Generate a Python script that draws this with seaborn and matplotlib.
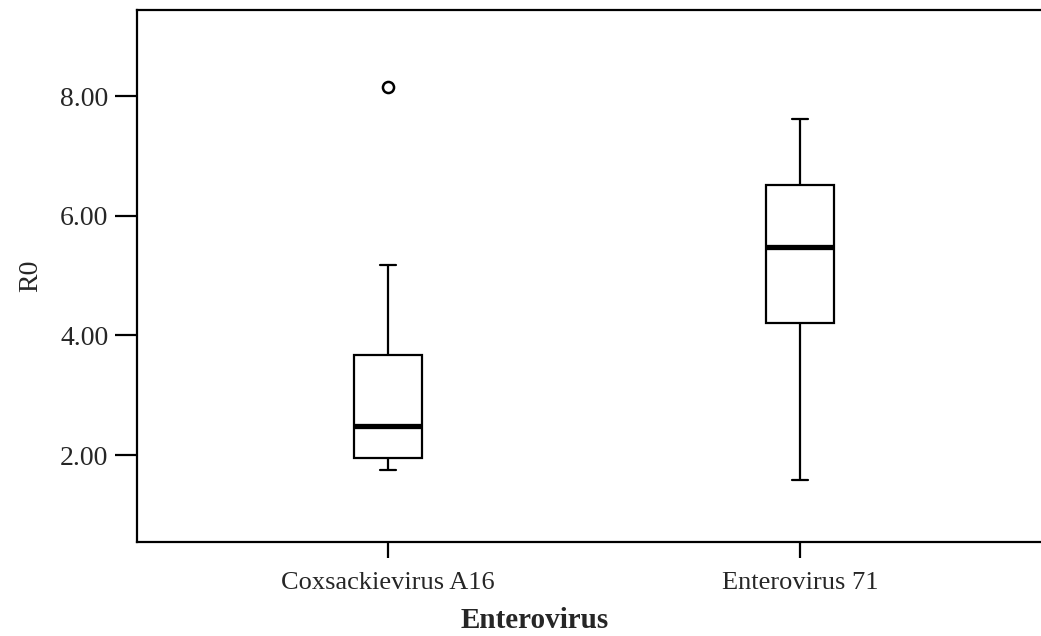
import numpy as np
import pandas as pd
import matplotlib
matplotlib.use("Agg")
import matplotlib.pyplot as plt
import seaborn as sns

# Five-number summaries of R0 for each enterovirus group
viruses = ["Coxsackievirus A16", "Enterovirus 71"]
whisker_low = [1.75, 1.58]
q1 = [1.955, 4.20]
median = [2.49, 5.48]
q3 = [3.67, 6.51]
whisker_high = [5.175, 7.61]
outliers = [[8.15], []]

y_ticks = [2.0, 4.0, 6.0, 8.0]
y_tick_labels = ["2.00", "4.00", "6.00", "8.00"]

# Build a long-form table whose quartiles and whisker ends reproduce the summaries
rows = []
for name, lo, a, m, b, hi, extra in zip(viruses, whisker_low, q1, median, q3,
                                        whisker_high, outliers):
    sample = [lo] + [a] * 4 + [m] * 4 + [b] * 4 + [hi] + list(extra)
    rows += [{"Enterovirus": name, "R0": v} for v in sample]
df = pd.DataFrame(rows)

sns.set_theme(style="white")
plt.rcParams["font.family"] = ["Liberation Serif", "DejaVu Serif"]
plt.rcParams["text.color"] = "#1a1a1a"

W, H = 1041, 636
fig = plt.figure(figsize=(W / 100, H / 100), dpi=100)
left, right, top, bottom = 137, 1051, 10, 542
ax = fig.add_axes([left / W, (H - bottom) / H, (right - left) / W, (bottom - top) / H])

sns.boxplot(
    data=df, x="Enterovirus", y="R0", order=viruses, ax=ax,
    width=0.163, color="white", linecolor="black", linewidth=1.6,
    whis=1.5, fliersize=8,
    medianprops=dict(linewidth=3.8, color="black"),
    flierprops=dict(marker="o", markerfacecolor="white",
                    markeredgecolor="black", markeredgewidth=1.8),
)

# Narrow whisker caps
for cont in ax.containers:
    caps = getattr(cont, "caps", None)
    if caps is None:
        continue
    for cap in caps:
        xd = np.asarray(cap.get_xdata(), dtype=float)
        c = xd.mean()
        cap.set_xdata([c - 0.02, c + 0.02])

ax.set_xlim(-0.609, 1.609)
ax.set_ylim(0.546, 9.44)
ax.set_yticks(y_ticks)
ax.set_yticklabels(y_tick_labels)

for s in ax.spines.values():
    s.set_visible(True)
    s.set_color("black")
    s.set_linewidth(1.6)

ax.tick_params(axis="y", direction="out", length=15.5, width=1.6, color="black",
               labelsize=20, pad=5, left=True)
ax.tick_params(axis="x", direction="out", length=11.5, width=1.6, color="black",
               labelsize=19, pad=10, bottom=True)

ax.set_xlabel("Enterovirus", fontsize=21, fontweight="semibold", va="center")
ax.set_ylabel("R0", fontsize=20, labelpad=12)
ax.xaxis.set_label_coords((535 - left) / (right - left), -(620 - bottom) / (bottom - top))

fig.savefig("out.png", dpi=100, facecolor="white")
